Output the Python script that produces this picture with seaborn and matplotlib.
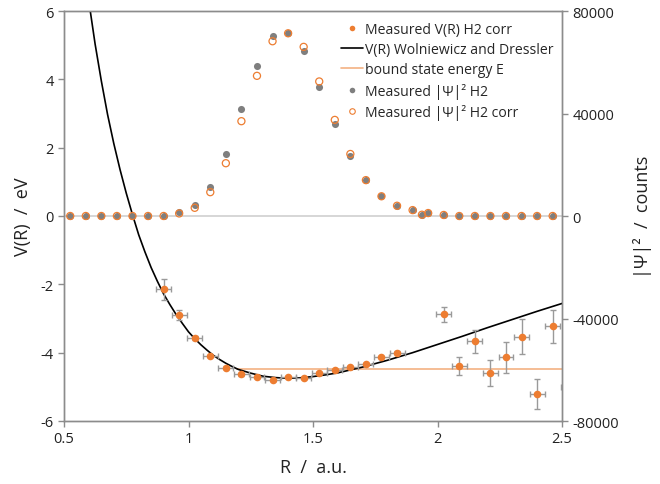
import numpy as np
import matplotlib
matplotlib.use("Agg")
import matplotlib.pyplot as plt
from matplotlib.lines import Line2D
import seaborn as sns

# measured |psi|^2 (counts) on the R grid
R_psi = [0.525, 0.5875, 0.65, 0.7125, 0.775, 0.8375, 0.9, 0.9625, 1.025, 1.0875,
         1.15, 1.2125, 1.275, 1.3375, 1.4, 1.4625, 1.525, 1.5875, 1.65, 1.7125,
         1.775, 1.8375, 1.9, 1.9375, 1.9625, 2.025, 2.0875, 2.15, 2.2125, 2.275,
         2.3375, 2.4, 2.4625]
psi_h2 = [0, 0, 0, 0, 0, 0, 0, 1400, 4400, 11500,
          24200, 41600, 58700, 70300, 71300, 64400, 50400, 35800, 23300, 14000,
          7700, 4000, 2300, 500, 1150, 400, 0, 0, 0, 0,
          0, 0, 0]
psi_corr = [0, 0, 0, 0, 0, 0, 0, 1000, 3200, 9300,
            20600, 37000, 54700, 68200, 71300, 66000, 52500, 37500, 24200, 14000,
            7700, 4000, 2300, 500, 1150, 400, 0, 0, 0, 0,
            0, 0, 0]

# measured V(R) with error bars (eV)
R_v = [0.9, 0.9625, 1.025, 1.0875, 1.15, 1.2125, 1.275, 1.3375, 1.4, 1.4625,
       1.525, 1.5875, 1.65, 1.7125, 1.775, 1.8375, 2.025, 2.0875, 2.15, 2.2125,
       2.275, 2.3375, 2.4, 2.4625, 2.525]
V_meas = [-2.14, -2.89, -3.56, -4.10, -4.44, -4.63, -4.71, -4.80, -4.72, -4.75,
          -4.60, -4.51, -4.41, -4.32, -4.13, -4.00, -2.87, -4.39, -3.67, -4.59,
          -4.14, -3.53, -5.21, -3.23, -5.00]
V_yerr = [0.31, 0.15, 0.06, 0.04, 0.04, 0.04, 0.03, 0.04, 0.03, 0.03,
          0.03, 0.03, 0.03, 0.03, 0.04, 0.05, 0.22, 0.25, 0.33, 0.38,
          0.45, 0.51, 0.44, 0.49, 0.50]
R_xerr = 0.03

# Wolniewicz / Dressler potential curve (eV)
R_curve = [0.55, 0.575, 0.6, 0.625, 0.65, 0.675, 0.7, 0.725, 0.75, 0.775, 0.8,
           0.825, 0.85, 0.875, 0.9, 0.925, 0.95, 0.975, 1.0, 1.025, 1.05, 1.075,
           1.1, 1.125, 1.15, 1.175, 1.2, 1.25, 1.3, 1.35, 1.4, 1.45, 1.5, 1.55,
           1.6, 1.7, 1.8, 1.9, 2.0, 2.1, 2.2, 2.3, 2.4, 2.5, 2.6]
V_curve = [9.2, 7.66, 6.27, 5.03, 3.95, 2.97, 2.12, 1.36, 0.67, 0.04, -0.55,
           -1.05, -1.51, -1.91, -2.28, -2.59, -2.88, -3.14, -3.39, -3.59, -3.77,
           -3.93, -4.08, -4.20, -4.31, -4.405, -4.49, -4.60, -4.69, -4.73, -4.75,
           -4.735, -4.70, -4.65, -4.59, -4.42, -4.22, -4.00, -3.76, -3.52, -3.27,
           -3.03, -2.79, -2.56, -2.33]

# bound state energy line
R_E = [1.195, 2.5]
E_bound = [-4.47, -4.47]

orange = "#ED7D31"
light_orange = "#F4B183"
grey = "#7F7F7F"
axis_grey = "#8C8C8C"

sns.set_style("white")
plt.rcParams["font.family"] = ["Open Sans", "DejaVu Sans"]
plt.rcParams["axes.unicode_minus"] = False

fig = plt.figure(figsize=(6.6, 4.85), dpi=100)
ax = fig.add_axes([64 / 660, 1 - 422 / 485, 498 / 660, 410 / 485])
ax2 = ax.twinx()

# zero line of the secondary axis
ax.axhline(0, color="#D0D0D0", lw=1.2, zorder=1)

sns.lineplot(x=R_curve, y=V_curve, ax=ax, color="black", lw=1.2,
             estimator=None, sort=False, zorder=3)
sns.lineplot(x=R_E, y=E_bound, ax=ax, color=light_orange, lw=1.2,
             estimator=None, sort=False, zorder=2)
ax.errorbar(R_v, V_meas, xerr=R_xerr, yerr=V_yerr, fmt="none",
            ecolor="#9A9A9A", elinewidth=1, capsize=2.5, capthick=1, zorder=4)
sns.scatterplot(x=R_v, y=V_meas, ax=ax, color=orange, s=30, linewidth=0, zorder=5)

sns.scatterplot(x=R_psi, y=psi_h2, ax=ax2, color=grey, s=26, linewidth=0, zorder=3)
sns.scatterplot(x=R_psi, y=psi_corr, ax=ax2, facecolor="none", edgecolor=orange,
                s=26, linewidth=0.9, zorder=4)

ax.set_xlim(0.5, 2.5)
ax.set_ylim(-6, 6)
ax2.set_ylim(-80000, 80000)
ax.set_xticks([0.5, 1, 1.5, 2, 2.5])
ax.set_xticklabels(["0.5", "1", "1.5", "2", "2.5"])
ax.set_yticks([-6, -4, -2, 0, 2, 4, 6])
ax2.set_yticks([-80000, -40000, 0, 40000, 80000])

for a in (ax, ax2):
    for sp in a.spines.values():
        sp.set_color(axis_grey)
        sp.set_linewidth(1)
    a.tick_params(colors=axis_grey, labelcolor="#222222", labelsize=10.5,
                  length=4, width=1, direction="out")
ax.tick_params(axis="y", left=True, right=False)
ax.tick_params(axis="x", bottom=True)
ax2.tick_params(axis="y", right=True, left=False)

ax.set_xlabel("R  /  a.u.", fontsize=13, color="#222222", labelpad=8)
ax.set_ylabel("V(R)  /  eV", fontsize=13, color="#222222", labelpad=6)
ax2.set_ylabel("|Ψ|²  /  counts", fontsize=13, color="#222222", labelpad=10)

handles = [
    Line2D([], [], marker="o", color=orange, ls="none", markersize=4, markeredgewidth=0),
    Line2D([], [], color="black", lw=1.2),
    Line2D([], [], color=light_orange, lw=1.2),
    Line2D([], [], marker="o", color=grey, ls="none", markersize=4, markeredgewidth=0),
    Line2D([], [], marker="o", ls="none", markersize=4, markerfacecolor="none",
           markeredgecolor=orange, markeredgewidth=0.8),
]
labels = ["Measured V(R) H2 corr", "V(R) Wolniewicz and Dressler",
          "bound state energy E", "Measured |Ψ|² H2", "Measured |Ψ|² H2 corr"]
ax2.legend(handles, labels, loc="upper left", bbox_to_anchor=(0.556, 0.974),
           frameon=False, fontsize=10.1, handlelength=1.55, handletextpad=0.2,
           labelspacing=0.38, borderpad=0, borderaxespad=0)

fig.savefig("out.png", dpi=100)
